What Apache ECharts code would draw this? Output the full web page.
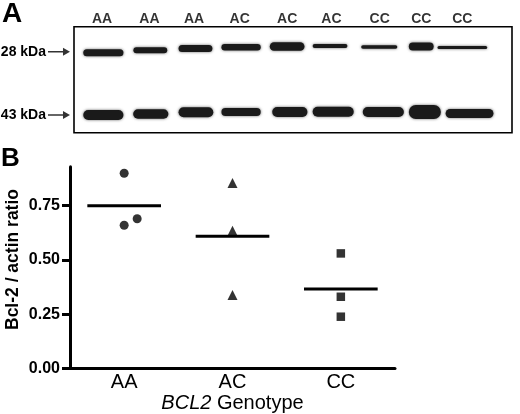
<!DOCTYPE html>
<html>
<head>
<meta charset="utf-8">
<script src="https://cdn.jsdelivr.net/npm/echarts@6/dist/echarts.min.js"></script>
<style>html,body{margin:0;padding:0;background:#fff}#c{width:520px;height:414px}</style>
</head>
<body>
<div id="c"></div>
<script>
// ---- Panel A: western blot ----
const laneLabels = ['AA','AA','AA','AC','AC','AC','CC','CC','CC'];
const laneCenters = [0.02, 1.07, 2.06, 3.07, 4.12, 5.10, 6.17, 7.09, 8.00];
const markerLabels = ['28 kDa', '43 kDa'];
const markerPos = [25, 88.3];
// [lane center, band width, band thickness, migration]
const bands28 = [
  [0.05, 0.89, 7.0, 26.0], [1.09, 0.75, 6.0, 23.6], [2.09, 0.75, 7.0, 21.8],
  [3.10, 0.87, 6.5, 20.6], [4.12, 0.77, 8.5, 19.8], [5.07, 0.77, 4.0, 19.3],
  [6.16, 0.80, 3.5, 20.3], [7.09, 0.55, 8.0, 19.8], [8.00, 1.10, 3.0, 20.8]
];
const bands43 = [
  [0.05, 0.89, 10.0, 88.3], [1.10, 0.78, 9.5, 87.3], [2.10, 0.77, 10.0, 85.6],
  [3.10, 0.87, 8.0, 85.3], [4.18, 0.78, 10.0, 85.3], [5.14, 0.91, 10.0, 85.0],
  [6.25, 0.91, 10.0, 85.3], [7.17, 0.71, 14.0, 85.3], [8.16, 1.06, 9.0, 86.8]
];
// ---- Panel B: ratios ----
const genotypes = ['AA', 'AC', 'CC'];
const aaValues = [0.90, 0.66, 0.69];
const acValues = [0.855, 0.635, 0.338];
const ccValues = [0.53, 0.33, 0.238];
const yTicks = [0, 0.25, 0.5, 0.75];

const groupValues = [aaValues, acValues, ccValues];
const jitter = [[0, 0, 0.12], [0, 0, 0], [0, 0, 0]];
const symbols = ['circle', 'triangle', 'rect'];
const symbolSizes = [9, 10, 8.5];

const FONT = 'Liberation Sans, Arial, sans-serif';
const series = [];

groupValues.forEach((vals, g) => {
  series.push({
    type: 'scatter', xAxisIndex: 1, yAxisIndex: 0,
    symbol: symbols[g], symbolSize: symbolSizes[g],
    itemStyle: { color: '#000' },
    data: vals.map((v, i) => [g + 0.5 + jitter[g][i], v]),
    z: 3
  });
  const m = vals.reduce((a, b) => a + b, 0) / vals.length;
  series.push({
    type: 'line', xAxisIndex: 1, yAxisIndex: 0,
    symbol: 'none', lineStyle: { color: '#000', width: 3 },
    data: [[g + 0.5 - 0.34, m], [g + 0.5 + 0.34, m]],
    z: 2
  });
});

function bandItem(params, api) {
  const cx = api.value(0), w = api.value(1), t = api.value(2), y = api.value(3);
  const p0 = api.coord([cx - w / 2, y]);
  const p1 = api.coord([cx + w / 2, y]);
  const h = api.size([0, t])[1];
  return {
    type: 'rect',
    shape: { x: p0[0], y: p0[1] - h / 2, width: p1[0] - p0[0], height: h, r: h / 2 },
    style: { fill: '#1a1a1a', shadowBlur: 3, shadowColor: 'rgba(0,0,0,0.6)' }
  };
}
series.push({ type: 'custom', xAxisIndex: 2, yAxisIndex: 1, renderItem: bandItem, data: bands28, clip: false });
series.push({ type: 'custom', xAxisIndex: 2, yAxisIndex: 1, renderItem: bandItem, data: bands43, clip: false });
series.push({
  type: 'scatter', xAxisIndex: 2, yAxisIndex: 1, clip: false,
  symbolSize: 1, itemStyle: { color: 'transparent' }, silent: true,
  data: laneCenters.map((x, i) => ({ value: [x, -7.4], name: laneLabels[i] })),
  label: { show: true, position: 'inside', formatter: p => p.name,
    color: '#000', fontFamily: FONT, fontWeight: 'bold', fontSize: 14 }
});
// marker arrows pointing at the blot
series.push({
  type: 'scatter', xAxisIndex: 2, yAxisIndex: 1, clip: false, silent: true,
  symbol: 'path://M0,3.2 L15,3.2 L15,0 L22,4 L15,8 L15,4.8 L0,4.8 Z',
  symbolSize: [22, 8], symbolKeepAspect: false,
  itemStyle: { color: '#000' },
  data: markerPos.map(p => [-0.6 - 15 / 45.1, p])
});

const option = {
  animation: false,
  backgroundColor: '#fff',
  title: [
    { text: 'A', left: 2, top: 0, padding: 0, textStyle: { fontFamily: FONT, fontWeight: 'bold', fontSize: 28, color: '#000' } },
    { text: 'B', left: 1, top: 146, padding: 0, textStyle: { fontFamily: FONT, fontWeight: 'bold', fontSize: 26, color: '#000' } }
  ],
  grid: [
    { left: 70, top: 166.7, width: 325, height: 201.6, outerBoundsMode: 'none', containLabel: false },
    { left: 74, top: 26.7, width: 438, height: 106, outerBoundsMode: 'none', containLabel: false,
      show: true, borderColor: '#000', borderWidth: 1.6, backgroundColor: 'transparent' }
  ],
  xAxis: [
    {
      type: 'category', gridIndex: 0, data: genotypes, boundaryGap: true,
      axisLine: { lineStyle: { color: '#000', width: 3 } },
      axisTick: { show: false },
      axisLabel: { color: '#000', fontFamily: FONT, fontSize: 20, margin: 4 },
      name: '{i|BCL2} Genotype', nameLocation: 'middle', nameGap: 25, nameMoveOverlap: false,
      nameTextStyle: { color: '#000', fontFamily: FONT, fontSize: 20,
        rich: { i: { fontStyle: 'italic', fontFamily: FONT, fontSize: 20, color: '#000' } } }
    },
    { type: 'value', gridIndex: 0, min: 0, max: 3, show: false },
    { type: 'value', gridIndex: 1, min: -0.6, max: 9.1, show: false }
  ],
  yAxis: [
    {
      type: 'value', gridIndex: 0, min: 0, max: 0.93,
      axisLine: { show: true, lineStyle: { color: '#000', width: 3 } },
      axisTick: { show: true, length: 8, lineStyle: { color: '#000', width: 3 }, customValues: yTicks },
      axisLabel: { color: '#000', fontFamily: FONT, fontWeight: 'bold', fontSize: 16, margin: 10,
        customValues: yTicks, formatter: v => v.toFixed(2) },
      splitLine: { show: false },
      name: 'Bcl-2 / actin ratio', nameLocation: 'middle', nameGap: 48, nameMoveOverlap: false,
      nameTextStyle: { color: '#000', fontFamily: FONT, fontWeight: 'bold', fontSize: 17.5, padding: [0, 0, 0, 16] }
    },
    {
      type: 'value', gridIndex: 1, min: 0, max: 106, inverse: true, offset: 4,
      axisLine: { show: false },
      axisTick: { show: false },
      axisLabel: { color: '#000', fontFamily: FONT, fontWeight: 'bold', fontSize: 14, margin: 24,
        customValues: markerPos, formatter: v => markerLabels[markerPos.indexOf(v)] || '' },
      splitLine: { show: false }
    }
  ],
  series: series
};
const chart = echarts.init(document.getElementById('c'));
chart.setOption(option);
</script>
</body>
</html>
